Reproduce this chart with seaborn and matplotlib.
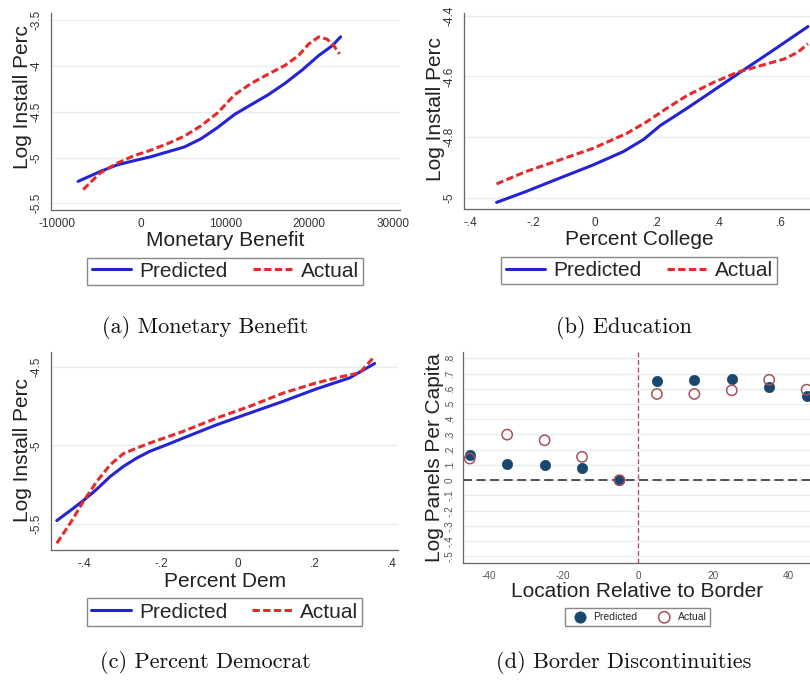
import pandas as pd
import matplotlib.pyplot as plt
import seaborn as sns

# === Panel (a): Monetary Benefit ===
benefit_pred_x = [-7480, -4880, -2880, -880, 1120, 3120, 5120, 7120, 9120, 11120, 13120, 15120, 17120, 19120, 21120, 22720, 23720]
benefit_pred_y = [-5.261, -5.154, -5.082, -5.036, -4.993, -4.939, -4.886, -4.796, -4.671, -4.529, -4.421, -4.314, -4.189, -4.046, -3.886, -3.779, -3.682]
benefit_act_x = [-6880, -4880, -2880, -880, 1120, 3120, 5120, 7120, 9120, 11120, 13120, 15120, 17120, 18720, 19920, 21120, 22120, 22920, 23600]
benefit_act_y = [-5.35, -5.171, -5.064, -4.982, -4.921, -4.85, -4.768, -4.654, -4.511, -4.314, -4.189, -4.089, -3.993, -3.886, -3.761, -3.682, -3.707, -3.779, -3.868]
benefit_xticks = [-10000, 0, 10000, 20000, 30000]
benefit_xlabels = ["-10000", "0", "10000", "20000", "30000"]
benefit_yticks = [-5.5, -5, -4.5, -4, -3.5]
benefit_ylabels = ["-5.5", "-5", "-4.5", "-4", "-3.5"]

# === Panel (b): Education ===
college_pred_x = [-0.317, -0.222, -0.114, -0.005, 0.092, 0.157, 0.211, 0.297, 0.384, 0.46, 0.568, 0.687]
college_pred_y = [-5.016, -4.98, -4.936, -4.892, -4.848, -4.808, -4.762, -4.705, -4.645, -4.592, -4.518, -4.435]
college_act_x = [-0.317, -0.222, -0.114, -0.005, 0.103, 0.168, 0.232, 0.297, 0.384, 0.46, 0.535, 0.611, 0.654, 0.687]
college_act_y = [-4.955, -4.914, -4.876, -4.837, -4.788, -4.749, -4.705, -4.663, -4.619, -4.586, -4.564, -4.542, -4.52, -4.492]
college_xticks = [-0.4, -0.2, 0, 0.2, 0.4, 0.6]
college_xlabels = ["-.4", "-.2", "0", ".2", ".4", ".6"]
college_yticks = [-5, -4.8, -4.6, -4.4]
college_ylabels = ["-5", "-4.8", "-4.6", "-4.4"]

# === Panel (c): Percent Democrat ===
dem_pred_x = [-0.471, -0.436, -0.402, -0.367, -0.332, -0.298, -0.263, -0.229, -0.185, -0.142, -0.055, 0.031, 0.118, 0.204, 0.291, 0.356]
dem_pred_y = [-5.481, -5.417, -5.353, -5.28, -5.199, -5.135, -5.081, -5.038, -4.996, -4.953, -4.868, -4.793, -4.718, -4.639, -4.568, -4.476]
dem_act_x = [-0.471, -0.436, -0.402, -0.367, -0.332, -0.298, -0.263, -0.229, -0.185, -0.142, -0.055, 0.031, 0.118, 0.204, 0.274, 0.317, 0.356]
dem_act_y = [-5.626, -5.498, -5.359, -5.231, -5.124, -5.053, -5.017, -4.985, -4.947, -4.91, -4.825, -4.75, -4.665, -4.60, -4.558, -4.536, -4.43]
dem_xticks = [-0.4, -0.2, 0, 0.2, 0.4]
dem_xlabels = ["-.4", "-.2", "0", ".2", ".4"]
dem_yticks = [-5.5, -5, -4.5]
dem_ylabels = ["-5.5", "-5", "-4.5"]

# === Panel (d): Border Discontinuities ===
border_x = [-45, -35, -25, -15, -5, 5, 15, 25, 35, 45]
border_pred = [0.164, 0.109, 0.100, 0.079, 0.0, 0.648, 0.659, 0.666, 0.611, 0.555]
border_act = [0.142, 0.299, 0.262, 0.153, 0.0, 0.566, 0.566, 0.590, 0.659, 0.594]
border_xticks = [-40, -20, 0, 20, 40]
border_xlabels = ["-40", "-20", "0", "20", "40"]
border_yticks = [-0.5, -0.4, -0.3, -0.2, -0.1, 0, 0.1, 0.2, 0.3, 0.4, 0.5, 0.6, 0.7, 0.8]
border_ylabels = ["-.5", "-.4", "-.3", "-.2", "-.1", "0", ".1", ".2", ".3", ".4", ".5", ".6", ".7", ".8"]

BLUE = "#2424d6"
RED = "#e42a2a"
NAVY = "#1a476f"
MAROON = "#a8515a"

sns.set_style("white")
plt.rcParams["font.family"] = ["Liberation Sans", "DejaVu Sans"]

fig = plt.figure(figsize=(8.1, 6.8), dpi=100)
ax_a = fig.add_axes([0.063, 0.691, 0.431, 0.290])
ax_b = fig.add_axes([0.573, 0.693, 0.427, 0.288])
ax_c = fig.add_axes([0.063, 0.191, 0.428, 0.291])
ax_d = fig.add_axes([0.5716, 0.172, 0.4284, 0.310])


def style_panel(ax, xticks, xlabels, yticks, ylabels, xlim, ylim, size, color):
    ax.set_xlim(xlim)
    ax.set_ylim(ylim)
    ax.set_xticks(xticks, xlabels)
    ax.set_yticks(yticks, ylabels)
    ax.tick_params(axis="y", labelrotation=90)
    for lab in ax.get_yticklabels():
        lab.set_va("center")
    ax.tick_params(length=4, width=0.8, color="#666666", labelsize=size,
                   labelcolor=color, direction="out", pad=2)
    ax.grid(axis="y", color="#e6eeef", lw=1)
    ax.grid(axis="x", visible=False)
    ax.set_axisbelow(True)
    sns.despine(ax=ax)
    for s in ["left", "bottom"]:
        ax.spines[s].set_color("#666666")
        ax.spines[s].set_linewidth(0.9)


def set_labels(ax, xlabel, ylabel, xpos, ypos):
    ax.set_xlabel(xlabel, fontsize=15, color="#222222")
    ax.set_ylabel(ylabel, fontsize=15, color="#222222")
    ax.xaxis.set_label_coords(*xpos)
    ax.yaxis.set_label_coords(*ypos)
    ax.xaxis.label.set_va("center")
    ax.yaxis.label.set_va("center")


def line_pair(ax, px, py, qx, qy, anchor):
    sns.lineplot(x=px, y=py, ax=ax, color=BLUE, lw=2.2, estimator=None, sort=False, label="Predicted")
    sns.lineplot(x=qx, y=qy, ax=ax, color=RED, lw=2.2, estimator=None, sort=False,
                 linestyle=(0, (2.4, 1.1)), label="Actual")
    ax.legend(loc="center", bbox_to_anchor=anchor, ncol=2, fontsize=15, frameon=True,
              fancybox=False, edgecolor="#888888", framealpha=1, borderpad=0.2,
              handlelength=1.9, handletextpad=0.4, columnspacing=1.2)


# (a)
line_pair(ax_a, benefit_pred_x, benefit_pred_y, benefit_act_x, benefit_act_y, (0.499, -0.310))
style_panel(ax_a, benefit_xticks, benefit_xlabels, benefit_yticks, benefit_ylabels,
            (-10700, 30800), (-5.575, -3.42), 8.5, "#333333")
set_labels(ax_a, "Monetary Benefit", "Log Install Perc", (0.499, -0.152), (-0.083, 0.574))

# (b)
line_pair(ax_b, college_pred_x, college_pred_y, college_act_x, college_act_y, (0.506, -0.316))
style_panel(ax_b, college_xticks, college_xlabels, college_yticks, college_ylabels,
            (-0.4215, 0.6935), (-5.037, -4.39), 8.5, "#333333")
set_labels(ax_b, "Percent College", "Log Install Perc", (0.506, -0.158), (-0.084, 0.51))

# (c)
line_pair(ax_c, dem_pred_x, dem_pred_y, dem_act_x, dem_act_y, (0.501, -0.313))
style_panel(ax_c, dem_xticks, dem_xlabels, dem_yticks, dem_ylabels,
            (-0.486, 0.416), (-5.67, -4.404), 8.5, "#333333")
set_labels(ax_c, "Percent Dem", "Log Install Perc", (0.501, -0.157), (-0.083, 0.505))

# (d)
ax_d.axhline(0, color="#444444", lw=1.3, linestyle=(0, (5, 2.5)), zorder=1)
ax_d.axvline(0, color="#b8506a", lw=1.0, linestyle=(0, (3.5, 2)), zorder=1)
sns.scatterplot(x=border_x, y=border_pred, ax=ax_d, color=NAVY, edgecolor=NAVY,
                linewidth=0.5, s=55, label="Predicted", zorder=3)
sns.scatterplot(x=border_x, y=border_act, ax=ax_d, facecolor="none", edgecolor=MAROON,
                linewidth=1.1, s=55, label="Actual", zorder=4)
ax_d.legend(loc="center", bbox_to_anchor=(0.504, -0.256), ncol=2, fontsize=7.5, frameon=True,
            fancybox=False, edgecolor="#888888", framealpha=1, borderpad=0.35,
            handletextpad=0.3, columnspacing=1.6, markerscale=1.1)
style_panel(ax_d, border_xticks, border_xlabels, border_yticks, border_ylabels,
            (-46.8, 45.9), (-0.544, 0.84), 7.2, "#555555")
set_labels(ax_d, "Location Relative to Border", "Log Panels Per Capita", (0.501, -0.137), (-0.081, 0.502))

# === Captions ===
cap_font = dict(fontfamily="cmr10", fontsize=16, ha="center", va="center", color="#111111")
fig.text(0.253, 0.519, "(a) Monetary Benefit", **cap_font)
fig.text(0.770, 0.519, "(b) Education", **cap_font)
fig.text(0.254, 0.025, "(c) Percent Democrat", **cap_font)
fig.text(0.770, 0.025, "(d) Border Discontinuities", **cap_font)

fig.savefig("out.png", dpi=100)
